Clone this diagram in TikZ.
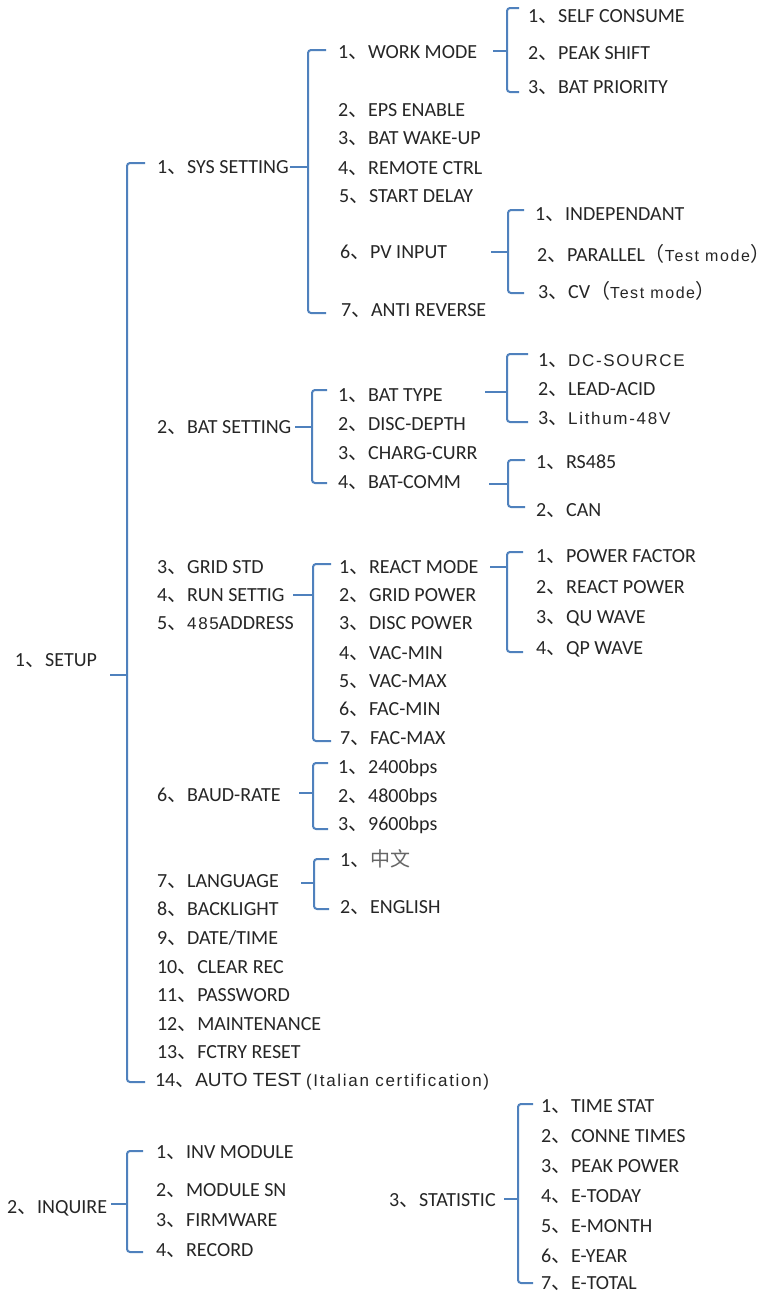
\documentclass[tikz,border=0pt]{standalone}
\usepackage{fontspec}
\setmainfont{Carlito}
\newfontfamily\cjkf{Noto Sans CJK SC}
\newfontfamily\arf{Liberation Sans}[LetterSpace=10]
\newfontfamily\arn{Liberation Sans}
\newcommand\dn{{\cjkf 、}}
\newcommand\tm{{\cjkf （}{\fontsize{16}{20}\selectfont\arf Test mode}\makebox[0.45em][l]{\cjkf ）}}
\definecolor{braceblue}{RGB}{79,129,189}
\definecolor{txt}{RGB}{38,38,38}
\tikzset{
  item/.style={anchor=base west, inner sep=0pt, outer sep=0pt, yshift=-6.5pt,
    text=txt, font=\fontsize{20}{24}\selectfont},
  bracebar/.style={draw=braceblue, line width=2pt, rounded corners=3pt},
  bracestem/.style={draw=braceblue, line width=2pt},
}
% name, stem x, bar x, tick x, top y, bottom y, stem y
\newcommand\mybrace[7]{%
  \coordinate (#1-s) at (#2,#7);
  \coordinate (#1-m) at (#3,#7);
  \coordinate (#1-t) at (#4,#5);
  \coordinate (#1-b) at (#4,#6);
  \draw[bracebar] (#1-t) -- (#3,#5) -- (#3,#6) -- (#1-b);
  \draw[bracestem] (#1-s) -- (#1-m);
}
\begin{document}
\begin{tikzpicture}[x=1pt,y=-1pt]
\useasboundingbox (0,0) rectangle (769,1294);
\fill[white] (0,0) rectangle (769,1294);

% SETUP
\node[item] (setup) at (15,660) {1\dn SETUP};
\mybrace{setupB}{110}{127}{145}{163}{1082}{675}

\node[item] (sys) at (157,167) {1\dn SYS SETTING};
\mybrace{sysB}{290}{308}{326}{50}{313}{167}
\node[item] (wm) at (338,52) {1\dn WORK MODE};
\mybrace{wmB}{493}{507}{519}{8}{92}{51}
\node[item] (sc) at (528,16) {1\dn SELF CONSUME};
\node[item] (ps) at (528,53) {2\dn PEAK SHIFT};
\node[item] (bp) at (528,87) {3\dn BAT PRIORITY};
\node[item] (eps) at (338,110) {2\dn EPS ENABLE};
\node[item] (bwu) at (338,138) {3\dn BAT WAKE-UP};
\node[item] (rc) at (338,168) {4\dn REMOTE CTRL};
\node[item] (sd) at (339,196) {5\dn START DELAY};
\node[item] (pv) at (340,252) {6\dn PV INPUT};
\mybrace{pvB}{491}{508}{524}{210}{293}{252}
\node[item] (ind) at (535,214) {1\dn INDEPENDANT};
\node[item] (par) at (537,255) {2\dn PARALLEL\tm};
\node[item] (cv) at (538,292) {3\dn CV\tm};
\node[item] (ar) at (341,310) {7\dn ANTI REVERSE};

\node[item] (bat) at (157,427) {2\dn BAT SETTING};
\mybrace{batB}{295}{312}{327}{390}{483}{427}
\node[item] (bt) at (338,395) {1\dn BAT TYPE};
\mybrace{btB}{485}{507}{528}{354}{422}{392}
\node[item] (dc) at (538,360) {1\dn {\fontsize{17}{20}\selectfont\arf DC-SOURCE}};
\node[item] (la) at (538,389) {2\dn LEAD-ACID};
\node[item] (li) at (538,418) {3\dn {\fontsize{17}{20}\selectfont\arf Lithum-48V}};
\node[item] (dd) at (338,424) {2\dn DISC-DEPTH};
\node[item] (cc) at (338,453) {3\dn CHARG-CURR};
\node[item] (bc) at (338,482) {4\dn BAT-COMM};
\mybrace{bcB}{489}{508}{525}{460}{507}{484}
\node[item] (rs) at (536,462) {1\dn RS485};
\node[item] (can) at (536,510) {2\dn CAN};

\node[item] (grid) at (157,567) {3\dn GRID STD};
\node[item] (run) at (157,595) {4\dn RUN SETTIG};
\node[item] (addr) at (157,623) {5\dn {\fontsize{17}{20}\selectfont\arf 485}ADDRESS};
\mybrace{runB}{293}{313}{331}{564}{741}{595}
\node[item] (rm) at (339,567) {1\dn REACT MODE};
\node[item] (gp) at (339,595) {2\dn GRID POWER};
\node[item] (dp) at (339,623) {3\dn DISC POWER};
\node[item] (vmin) at (339,653) {4\dn VAC-MIN};
\node[item] (vmax) at (339,681) {5\dn VAC-MAX};
\node[item] (fmin) at (339,709) {6\dn FAC-MIN};
\node[item] (fmax) at (340,738) {7\dn FAC-MAX};
\mybrace{rmB}{490}{507}{523}{552}{652}{567}
\node[item] (pf) at (536,556) {1\dn POWER FACTOR};
\node[item] (rp) at (536,587) {2\dn REACT POWER};
\node[item] (qu) at (536,617) {3\dn QU WAVE};
\node[item] (qp) at (536,648) {4\dn QP WAVE};

\node[item] (baud) at (157,795) {6\dn BAUD-RATE};
\mybrace{baudB}{299}{313}{328}{763}{829}{793}
\node[item] (b24) at (338,767) {1\dn 2400bps};
\node[item] (b48) at (338,796) {2\dn 4800bps};
\node[item] (b96) at (338,824) {3\dn 9600bps};

\node[item] (lang) at (157,881) {7\dn LANGUAGE};
\mybrace{langB}{301}{314}{329}{859}{909}{883}
\node[item] (zh) at (340,860) {1\dn {\cjkf\color{black!60}中文}};
\node[item] (en) at (340,907) {2\dn ENGLISH};

\node[item] (back) at (157,909) {8\dn BACKLIGHT};
\node[item] (date) at (157,938) {9\dn DATE/TIME};
\node[item] (clr) at (157,967) {10\dn CLEAR REC};
\node[item] (pw) at (157,995) {11\dn PASSWORD};
\node[item] (mt) at (157,1024) {12\dn MAINTENANCE};
\node[item] (fr) at (157,1052) {13\dn FCTRY RESET};
\node[item] (at) at (155,1080) {14\dn {\fontsize{19}{20}\selectfont\arn AUTO TEST} {\fontsize{17}{20}\selectfont\arf(Italian certification)}};

% INQUIRE
\node[item] (inq) at (7,1207) {2\dn INQUIRE};
\mybrace{inqB}{111}{127}{143}{1151}{1252}{1204}
\node[item] (inv) at (156,1152) {1\dn INV MODULE};
\node[item] (msn) at (156,1190) {2\dn MODULE SN};
\node[item] (fw) at (156,1220) {3\dn FIRMWARE};
\node[item] (rec) at (156,1250) {4\dn RECORD};

% STATISTIC
\node[item] (stat) at (389,1200) {3\dn STATISTIC};
\mybrace{statB}{504}{518}{533}{1104}{1283}{1199}
\node[item] (s1) at (541,1106) {1\dn TIME STAT};
\node[item] (s2) at (541,1136) {2\dn CONNE TIMES};
\node[item] (s3) at (541,1166) {3\dn PEAK POWER};
\node[item] (s4) at (541,1196) {4\dn E-TODAY};
\node[item] (s5) at (541,1226) {5\dn E-MONTH};
\node[item] (s6) at (541,1256) {6\dn E-YEAR};
\node[item] (s7) at (541,1283) {7\dn E-TOTAL};
\end{tikzpicture}
\end{document}
